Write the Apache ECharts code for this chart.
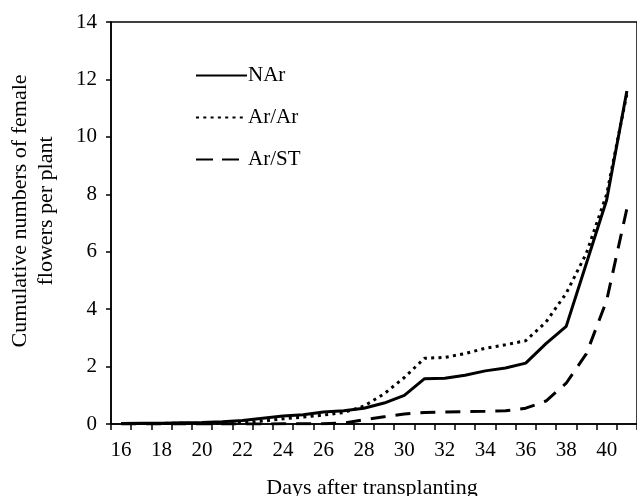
<!DOCTYPE html>
<html>
<head>
<meta charset="utf-8">
<script src="https://cdn.jsdelivr.net/npm/echarts@6/dist/echarts.min.js"></script>
<style>
    html, body {margin: 0; padding: 0; background: #fff;}
    #chart {width: 637px; height: 496px;}
</style>
</head>
<body>
<div id="chart"></div>
<script>
// days after transplanting (16..41, last one is cut off by the right edge)
var days = ['16', '17', '18', '19', '20', '21', '22', '23', '24', '25', '26', '27', '28',
    '29', '30', '31', '32', '33', '34', '35', '36', '37', '38', '39', '40', '41'];

var nAr = [0.02, 0.03, 0.03, 0.04, 0.05, 0.08, 0.12, 0.2, 0.28, 0.32, 0.42, 0.46, 0.55,
    0.73, 1.0, 1.58, 1.59, 1.7, 1.85, 1.95, 2.12, 2.8, 3.4, 5.6, 7.8, 11.6];

var arAr = [0.02, 0.02, 0.02, 0.03, 0.03, 0.04, 0.05, 0.1, 0.18, 0.24, 0.31, 0.4, 0.62,
    1.05, 1.62, 2.29, 2.32, 2.45, 2.64, 2.76, 2.9, 3.55, 4.55, 5.95, 8.0, 11.5];

var arSt = [0.0, 0.0, 0.0, 0.0, 0.0, 0.0, 0.0, 0.0, 0.01, 0.01, 0.01, 0.03, 0.15,
    0.25, 0.35, 0.4, 0.42, 0.43, 0.44, 0.46, 0.55, 0.8, 1.42, 2.45, 4.3, 7.5];

var yTicks = {min: 0, max: 14, interval: 2};

var serif = 'Liberation Serif';

var myChart = echarts.init(document.getElementById('chart'), null, {renderer: 'canvas'});

var option = {
    animation: false,
    backgroundColor: '#fff',
    color: ['#000', '#000', '#000'],
    grid: {
        left: 111,
        top: 22,
        bottom: 72,
        right: -11,      // plot runs past the picture edge
        show: true,
        borderColor: '#000',
        borderWidth: 1.5
    },
    legend: {
        orient: 'vertical',
        left: 195,
        top: 65,
        padding: 0,
        itemWidth: 51,
        itemHeight: 14,
        itemGap: 21,
        itemStyle: {opacity: 0},   // line only, no marker
        textStyle: {fontFamily: serif, fontSize: 21, color: '#000', padding: [0, 0, 0, -4]},
        data: [
            'NAr',
            'Ar/Ar',
            {name: 'Ar/ST', lineStyle: {type: [17, 9]}}   // two dashes, gap before text
        ]
    },
    xAxis: {
        type: 'category',
        boundaryGap: true,
        data: days,
        axisLine: {lineStyle: {color: '#000', width: 1.5}},
        axisTick: {show: true, interval: 0, length: 6, lineStyle: {color: '#000', width: 1.5}},
        axisLabel: {interval: 1, margin: 16, fontFamily: serif, fontSize: 21, color: '#000'},
        splitLine: {show: false}
    },
    yAxis: {
        type: 'value',
        min: yTicks.min,
        max: yTicks.max,
        interval: yTicks.interval,
        axisLine: {show: true, lineStyle: {color: '#000', width: 1.5}},
        axisTick: {show: true, length: 5, lineStyle: {color: '#000', width: 1.5}},
        axisLabel: {margin: 14, fontFamily: serif, fontSize: 21, color: '#000'},
        splitLine: {show: false}
    },
    graphic: [
        {
            type: 'text',
            x: 372,
            y: 488,
            style: {
                text: 'Days after transplanting',
                font: '22px "Liberation Serif"',
                fill: '#000',
                textAlign: 'center',
                textVerticalAlign: 'middle'
            }
        },
        {
            type: 'text',
            x: 33,
            y: 211,
            rotation: Math.PI / 2,
            style: {
                text: 'Cumulative numbers of female\nflowers per plant',
                font: '22px "Liberation Serif"',
                lineHeight: 26,
                fill: '#000',
                textAlign: 'center',
                textVerticalAlign: 'middle'
            }
        }
    ],
    series: [
        {
            name: 'NAr',
            type: 'line',
            symbol: 'none',
            data: nAr,
            lineStyle: {color: '#000', width: 3}
        },
        {
            name: 'Ar/Ar',
            type: 'line',
            symbol: 'none',
            data: arAr,
            lineStyle: {color: '#000', width: 3, type: [3, 4.3]}
        },
        {
            name: 'Ar/ST',
            type: 'line',
            symbol: 'none',
            data: arSt,
            lineStyle: {color: '#000', width: 3, type: [15, 10]}
        }
    ]
};

myChart.setOption(option);
</script>
</body>
</html>
